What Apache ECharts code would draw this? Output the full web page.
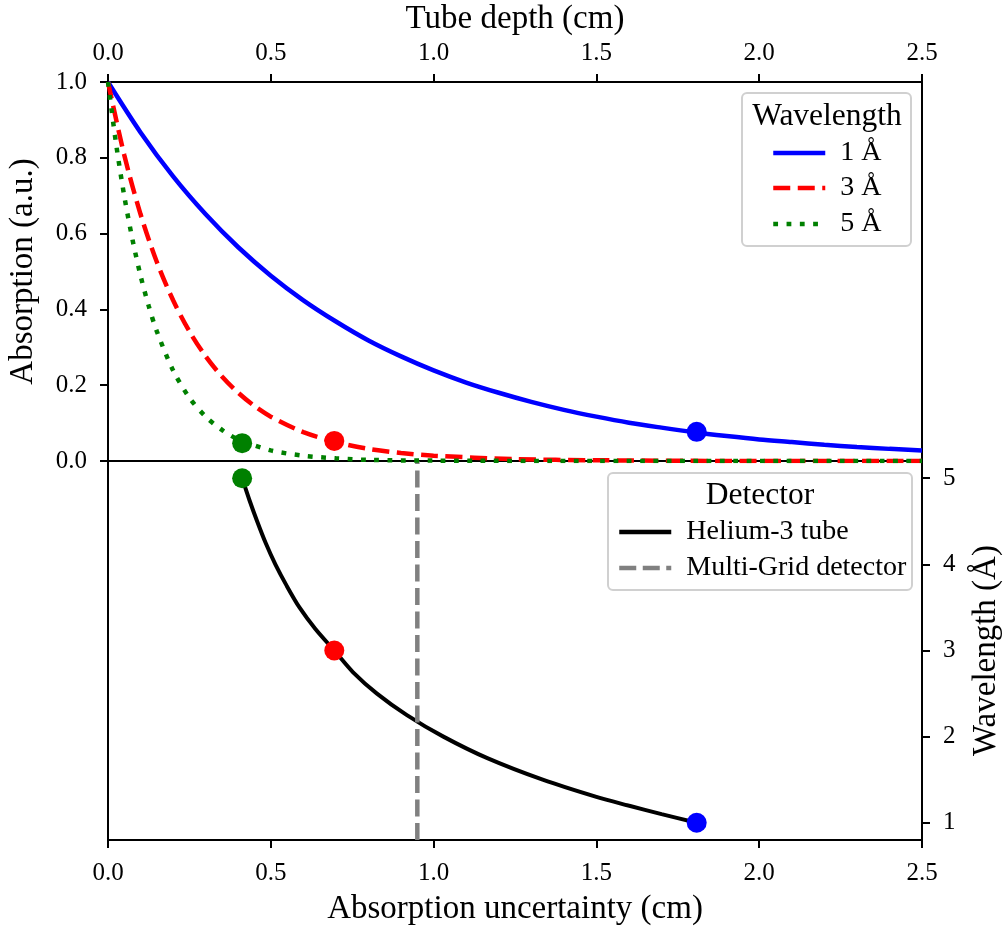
<!DOCTYPE html>
<html>
<head>
<meta charset="utf-8">
<title>Absorption vs tube depth</title>
<script src="https://cdn.jsdelivr.net/npm/echarts@6/dist/echarts.min.js"></script>
<style>
  html, body { margin: 0; padding: 0; background: #fff; }
  #chart { width: 1003px; height: 927px; }
</style>
</head>
<body>
<div id="chart"></div>
<script>
// Absorption curves for each wavelength, sampled along the tube depth (cm)
const depth1 = [0, 0.1, 0.2, 0.3, 0.4, 0.5, 0.6, 0.7, 0.8, 0.9, 1.0, 1.1, 1.2, 1.3, 1.4, 1.5, 1.6, 1.7, 1.8, 1.9, 2.0, 2.1, 2.2, 2.3, 2.4, 2.5];
const abs1   = [1.000, 0.867, 0.751, 0.651, 0.564, 0.489, 0.424, 0.368, 0.318, 0.276, 0.239, 0.207, 0.180, 0.156, 0.135, 0.117, 0.101, 0.088, 0.076, 0.066, 0.057, 0.050, 0.043, 0.037, 0.032, 0.028];

const depth3 = [0, 0.05, 0.1, 0.15, 0.2, 0.25, 0.3, 0.35, 0.4, 0.45, 0.5, 0.6, 0.7, 0.8, 0.9, 1.0, 1.25, 1.5, 2.0, 2.5];
const abs3   = [1.000, 0.807, 0.651, 0.525, 0.424, 0.342, 0.276, 0.223, 0.180, 0.145, 0.117, 0.076, 0.050, 0.032, 0.021, 0.014, 0.005, 0.002, 0.000, 0.000];

const depth5 = [0, 0.025, 0.05, 0.075, 0.1, 0.125, 0.15, 0.2, 0.25, 0.3, 0.35, 0.4, 0.5, 0.6, 0.7, 0.8, 1.0, 1.5, 2.5];
const abs5   = [1.000, 0.836, 0.699, 0.585, 0.489, 0.409, 0.342, 0.239, 0.167, 0.117, 0.082, 0.057, 0.028, 0.014, 0.007, 0.003, 0.001, 0.000, 0.000];

// Wavelengths (Å) with their marked depth and absorption
const wavelengths  = [1, 3, 5];
const markerDepth  = [1.808, 0.695, 0.412];
const markerAbs    = [0.077, 0.053, 0.047];
const markerColors = ['#0000ff', '#ff0000', '#008000'];

// Helium-3 tube: absorption uncertainty (cm) against wavelength (Å)
const heWavelength = [5.0, 4.75, 4.5, 4.25, 4.0, 3.75, 3.5, 3.25, 3.0, 2.75, 2.5, 2.25, 2.0, 1.75, 1.5, 1.3, 1.2, 1.1, 1.0];
const heDepth      = [0.412, 0.434, 0.458, 0.484, 0.514, 0.549, 0.588, 0.637, 0.695, 0.752, 0.826, 0.918, 1.030, 1.165, 1.335, 1.500, 1.598, 1.700, 1.808];

// Multi-Grid detector depth (cm)
const multiGridDepth = 0.95;

// Tick values
const depthTicks      = [0, 0.5, 1.0, 1.5, 2.0, 2.5];
const absTicks        = [0, 0.2, 0.4, 0.6, 0.8, 1.0];
const wavelengthTicks = [1, 2, 3, 4, 5];

const FONT = 'Liberation Serif';
const zip = (xs, ys) => xs.map((x, i) => [x, ys[i]]);

const GRID_LEFT = 108, GRID_RIGHT = 81, TOP_Y = 82, MID_Y = 461, BOT_Y = 840;

const tickLabel = { fontFamily: FONT, fontSize: 25, color: '#000' };
const axisName  = { fontFamily: FONT, fontSize: 33, color: '#000' };
const tickStyle = { show: true, inside: false, length: 8, lineStyle: { color: '#000', width: 2 } };
const noLine    = { show: false, onZero: false };

const lineStyles = [
  { color: markerColors[0], width: 4.5, type: 'solid' },
  { color: markerColors[1], width: 4.5, type: [17, 7.5], cap: 'butt' },
  { color: markerColors[2], width: 4.5, type: [4.8, 8.5], cap: 'butt' }
];
const heStyle = { color: '#000', width: 4.5, type: 'solid' };
const mgStyle = { color: '#808080', width: 4.5, type: [17, 6.5], cap: 'butt' };
const curveData = [zip(depth1, abs1), zip(depth3, abs3), zip(depth5, abs5)];

const series = [];
wavelengths.forEach((w, i) => {
  series.push({
    name: w + ' Å', type: 'line', xAxisIndex: 0, yAxisIndex: 0,
    data: curveData[i], smooth: 0.3, symbol: 'none',
    lineStyle: lineStyles[i], itemStyle: { color: markerColors[i] }, z: 2 + i * 0.01
  });
});
series.push({
  name: 'absMarkers', type: 'scatter', xAxisIndex: 0, yAxisIndex: 0,
  data: wavelengths.map((w, i) => ({ value: [markerDepth[i], markerAbs[i]], itemStyle: { color: markerColors[i], opacity: 1 } })),
  symbolSize: 20, z: 5
});
series.push({
  name: 'Helium-3 tube', type: 'line', xAxisIndex: 1, yAxisIndex: 1,
  data: zip(heDepth, heWavelength), smooth: 0.3, symbol: 'none',
  lineStyle: { color: '#000', width: 4 }, itemStyle: { color: '#000' }, z: 2
});
series.push({
  name: 'Multi-Grid detector', type: 'line', xAxisIndex: 1, yAxisIndex: 1,
  data: [[multiGridDepth, 0.8], [multiGridDepth, 5.2]], symbol: 'none',
  lineStyle: mgStyle, itemStyle: { color: '#808080' }, z: 2
});
series.push({
  name: 'heMarkers', type: 'scatter', xAxisIndex: 1, yAxisIndex: 1,
  data: wavelengths.map((w, i) => ({ value: [markerDepth[i], w], itemStyle: { color: markerColors[i], opacity: 1 } })),
  symbolSize: 20, z: 5
});

// One legend component per entry so each row sits at a fixed height
function legendRow(name, left, rowY, style) {
  return {
    data: [name], orient: 'vertical', left: left, top: rowY - 15, padding: 0,
    itemWidth: 52, itemHeight: 14, selectedMode: false,
    itemStyle: { opacity: 0 },
    lineStyle: { color: style.color, width: style.width, type: style.type, cap: 'butt', opacity: 1 },
    textStyle: { fontFamily: FONT, fontSize: 28, color: '#000', lineHeight: 30, padding: [0, 0, 0, 10] }
  };
}

const legendBox = (x, y, w, h) => ({
  type: 'rect', z: 3, shape: { x: x, y: y, width: w, height: h, r: 5 },
  style: { fill: 'rgba(255,255,255,0.85)', stroke: '#d0d0d0', lineWidth: 2 }
});
const legendTitle = (text, x, y) => ({
  type: 'text', z: 4, x: x, y: y,
  style: { text: text, fontFamily: FONT, fontSize: 31.5, fill: '#000', align: 'center', verticalAlign: 'middle' }
});

const option = {
  backgroundColor: '#fff',
  animation: false,
  grid: [
    { left: GRID_LEFT, right: GRID_RIGHT, top: TOP_Y, height: MID_Y - TOP_Y, show: true, borderColor: '#000', borderWidth: 2, backgroundColor: 'transparent', outerBoundsMode: 'none', containLabel: false },
    { left: GRID_LEFT, right: GRID_RIGHT, top: MID_Y, height: BOT_Y - MID_Y, show: true, borderColor: '#000', borderWidth: 2, backgroundColor: 'transparent', outerBoundsMode: 'none', containLabel: false }
  ],
  xAxis: [
    {
      type: 'value', gridIndex: 0, position: 'top', min: 0, max: 2.5, interval: 0.5,
      name: 'Tube depth (cm)', nameLocation: 'middle', nameGap: 46, nameTextStyle: axisName,
      axisLine: noLine, axisTick: tickStyle, splitLine: { show: false },
      axisLabel: { ...tickLabel, margin: 16, customValues: depthTicks, formatter: v => v.toFixed(1) }
    },
    {
      type: 'value', gridIndex: 1, position: 'bottom', min: 0, max: 2.5, interval: 0.5,
      name: 'Absorption uncertainty (cm)', nameLocation: 'middle', nameGap: 53, nameTextStyle: axisName,
      axisLine: noLine, axisTick: tickStyle, splitLine: { show: false },
      axisLabel: { ...tickLabel, margin: 21, customValues: depthTicks, formatter: v => v.toFixed(1) }
    }
  ],
  yAxis: [
    {
      type: 'value', gridIndex: 0, position: 'left', min: 0, max: 1, interval: 0.2,
      name: 'Absorption (a.u.)', nameLocation: 'middle', nameGap: 68, nameRotate: 90, nameTextStyle: axisName,
      axisLine: noLine, axisTick: tickStyle, splitLine: { show: false },
      axisLabel: { ...tickLabel, margin: 21, customValues: absTicks, formatter: v => v.toFixed(1) }
    },
    {
      type: 'value', gridIndex: 1, position: 'right', min: 0.8, max: 5.2,
      name: 'Wavelength (Å)', nameLocation: 'middle', nameGap: 48, nameRotate: 90, nameTextStyle: axisName,
      axisLine: noLine, splitLine: { show: false },
      axisTick: { ...tickStyle, customValues: wavelengthTicks },
      axisLabel: { ...tickLabel, margin: 21, customValues: wavelengthTicks, formatter: v => String(v) }
    }
  ],
  legend: [
    legendRow('1 Å', 771, 153, lineStyles[0]),
    legendRow('3 Å', 771, 188, lineStyles[1]),
    legendRow('5 Å', 771, 224, lineStyles[2]),
    legendRow('Helium-3 tube', 617, 532, heStyle),
    legendRow('Multi-Grid detector', 617, 568, mgStyle)
  ],
  graphic: [
    legendBox(742, 93, 169, 153),
    legendTitle('Wavelength', 827, 117),
    legendBox(608, 473, 304, 117),
    legendTitle('Detector', 760, 496)
  ],
  series: series
};

const chart = echarts.init(document.getElementById('chart'), null, { renderer: 'canvas' });
chart.setOption(option);
</script>
</body>
</html>
